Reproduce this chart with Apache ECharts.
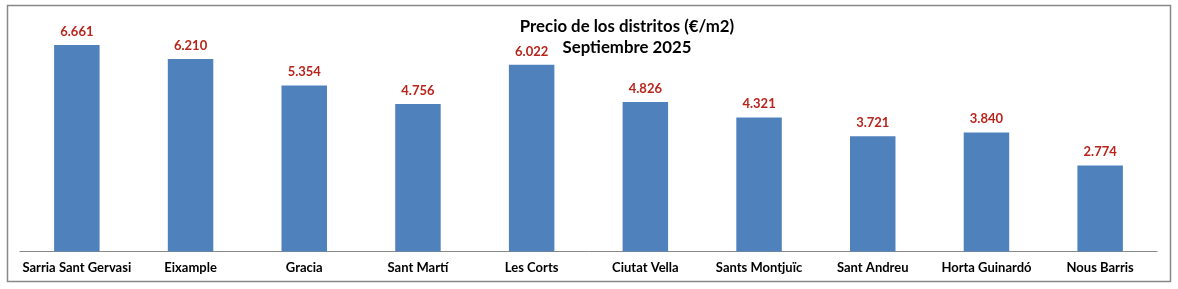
<!DOCTYPE html>
<html><head><meta charset="utf-8">
<script src="https://cdn.jsdelivr.net/npm/echarts@6/dist/echarts.min.js"></script>
<style>html,body{margin:0;padding:0;background:#fff}#c{width:1178px;height:289px}</style>
</head><body><div id="c"></div>
<script>
const categories = ["Sarria Sant Gervasi","Eixample","Gracia","Sant Martí","Les Corts","Ciutat Vella","Sants Montjuïc","Sant Andreu","Horta Guinardó","Nous Barris"];
const values = [6661,6210,5354,4756,6022,4826,4321,3721,3840,2774];
const titleLines = ["Precio de los distritos (€/m2)","Septiembre 2025"];
const FONT = "Lato, 'Open Sans', sans-serif";
const chart = echarts.init(document.getElementById('c'));
function fmt(v){return String(v).replace(/\B(?=(\d{3})+(?!\d))/g,'.');}
chart.setOption({
  animation:false,
  title:{text:titleLines.join('\n'),left:622,top:11,textAlign:'center',
    textStyle:{fontFamily:FONT,fontSize:16.8,fontWeight:'bold',color:'#000',lineHeight:21}},
  graphic:[{type:'rect',shape:{x:7.5,y:5.5,width:1163,height:276},style:{fill:'none',stroke:'#888',lineWidth:1.5},silent:true,z:-1}],
  grid:{left:20,right:21,top:34.5,bottom:37.5,containLabel:false},
  xAxis:{type:'category',data:categories,
    axisLine:{lineStyle:{color:'#888',width:1}},axisTick:{show:false},
    axisLabel:{interval:0,margin:10,fontFamily:FONT,fontSize:13,fontWeight:'bold',color:'#000'}},
  yAxis:{type:'value',min:0,max:7000,show:false,splitLine:{show:false}},
  series:[{type:'bar',data:values,barWidth:'40%',itemStyle:{color:'#4F81BD'},
    label:{show:true,position:'top',distance:7,formatter:p=>fmt(p.value),
      fontFamily:FONT,fontSize:13,fontWeight:'bold',color:'#B8241B'}}]
});
</script></body></html>
